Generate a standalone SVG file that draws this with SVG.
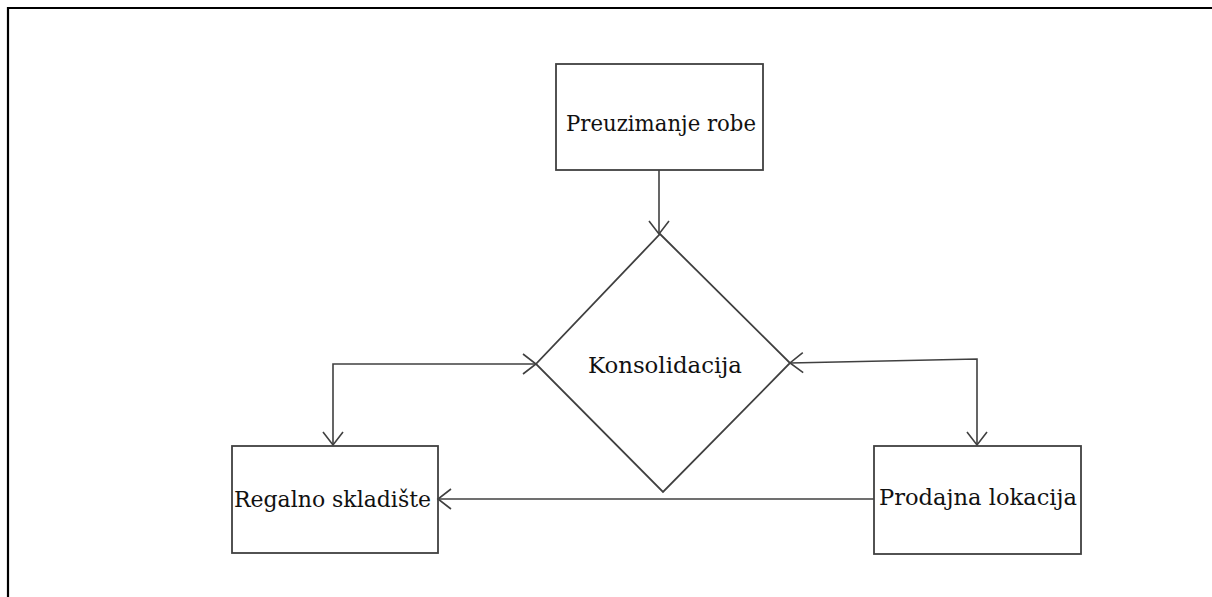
<svg xmlns="http://www.w3.org/2000/svg" width="1212" height="597" viewBox="0 0 1212 597">
<defs>
<style>
.shape{fill:#ffffff;stroke:#404040;stroke-width:1.8}
.conn{fill:none;stroke:#404040;stroke-width:1.6}
.lbl{font-family:"DejaVu Serif","Liberation Serif",serif;font-size:22px;fill:#111111;text-anchor:start}
</style>
<marker id="arr" markerUnits="userSpaceOnUse" markerWidth="30" markerHeight="30" viewBox="-15 -15 30 30" refX="0" refY="0" orient="auto-start-reverse">
<path d="M-13,-10 L0,0 L-13,10" fill="none" stroke="#404040" stroke-width="1.6"/>
</marker>
</defs>
<rect width="1212" height="597" fill="#ffffff"/>
<path d="M8,597 L8,8 L1212,8" fill="none" stroke="#000000" stroke-width="2.2"/>
<g id="node-preuzimanje">
<rect class="shape" x="556" y="64" width="207" height="106"/>
<text class="lbl" x="566" y="131" textLength="190" lengthAdjust="spacingAndGlyphs">Preuzimanje  robe</text>
</g>
<g id="node-konsolidacija">
<polygon class="shape" points="660,234 790,363 663,492 536,364"/>
<text class="lbl" x="588" y="373" textLength="154" lengthAdjust="spacingAndGlyphs">Konsolidacija</text>
</g>
<g id="node-regalno">
<rect class="shape" x="232" y="446" width="206" height="107"/>
<text class="lbl" x="234" y="507" textLength="197" lengthAdjust="spacingAndGlyphs">Regalno skladište</text>
</g>
<g id="node-prodajna">
<rect class="shape" x="874" y="446" width="207" height="108"/>
<text class="lbl" x="879" y="505" textLength="198" lengthAdjust="spacingAndGlyphs">Prodajna lokacija</text>
</g>
<g id="connectors">
<path class="conn" d="M659,170 L659,234" marker-end="url(#arr)"/>
<path class="conn" d="M536,364 L333,364 L333,445" marker-start="url(#arr)" marker-end="url(#arr)"/>
<path class="conn" d="M790,363 L977,359 L977,445" marker-start="url(#arr)" marker-end="url(#arr)"/>
<path class="conn" d="M874,499 L438,499" marker-end="url(#arr)"/>
</g>
</svg>
